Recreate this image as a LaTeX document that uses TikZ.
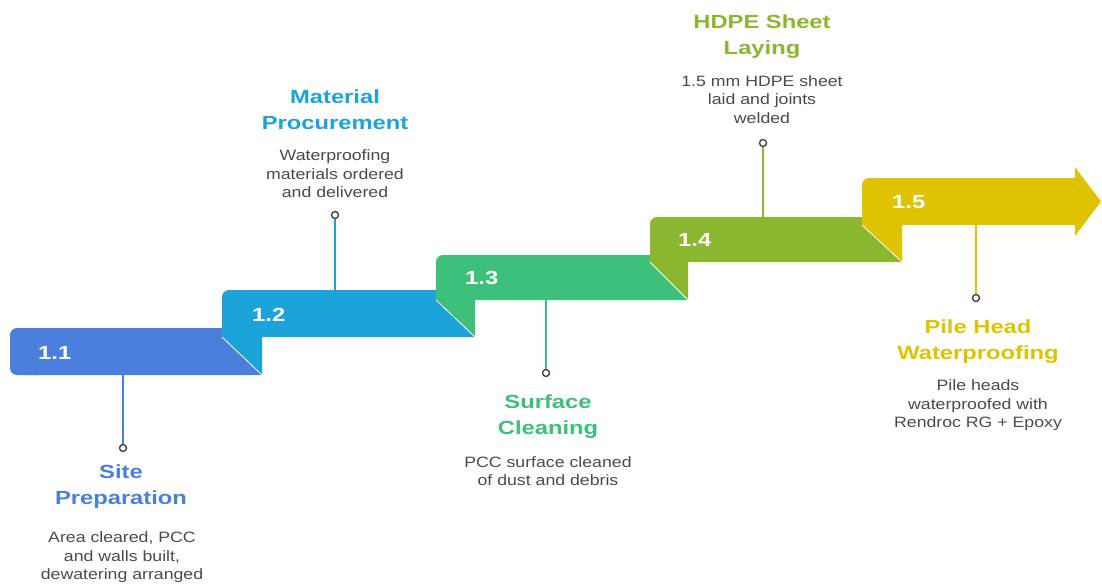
\documentclass[tikz,border=0pt]{standalone}
\usepackage{fontspec}
\setmainfont{Liberation Sans}
\newfontfamily\tfont[FakeStretch=1.25]{Liberation Sans}
\newfontfamily\dfont[FakeStretch=1.18]{Liberation Sans}
\definecolor{cA}{HTML}{4A7FDE}
\definecolor{cB}{HTML}{1BA3DA}
\definecolor{cC}{HTML}{3CC07A}
\definecolor{cD}{HTML}{8AB72F}
\definecolor{cE}{HTML}{E0C300}
\definecolor{txtgray}{HTML}{4A4A4A}
\definecolor{dotgray}{HTML}{444444}
\tikzset{
  numlabel/.style={anchor=west, text=white, font=\tfont\bfseries\fontsize{19}{22}\selectfont, inner sep=0pt},
  titlelabel/.style={align=center, font=\tfont\bfseries\fontsize{19}{26}\selectfont, inner sep=0pt},
  desclabel/.style={align=center, text=txtgray, font=\dfont\fontsize{15}{18.5}\selectfont, inner sep=0pt},
  enddot/.style={circle, draw=dotgray, fill=white, line width=1.4pt, minimum size=7pt, inner sep=0pt},
  conn/.style={line width=2pt},
  foldline/.style={white, line width=0.8pt},
}
\begin{document}
\begin{tikzpicture}[x=1pt,y=-1pt]
\useasboundingbox (0,0) rectangle (1102,584);
% band 1.1
\fill[cA, rounded corners=7] (10,328) rectangle (45,375);
\fill[cA] (30,328) -- (222,328) -- (222,337) -- (262,375) -- (30,375) -- cycle;
\fill[cB] (222,337) -- (262,337) -- (262,375) -- cycle;
\draw[foldline] (222,337) -- (262,375);
% band 1.2
\fill[cB, rounded corners=7] (222,290) rectangle (257,330);
\fill[cB] (242,290) -- (436,290) -- (436,300) -- (475,337) -- (222,337) -- (222,310) -- cycle;
\fill[cC] (436,300) -- (475,300) -- (475,337) -- cycle;
\draw[foldline] (436,300) -- (475,337);
% band 1.3
\fill[cC, rounded corners=7] (436,255) rectangle (471,292);
\fill[cC] (456,255) -- (650,255) -- (650,262) -- (688,300) -- (436,300) -- (436,275) -- cycle;
\fill[cD] (650,262) -- (688,262) -- (688,300) -- cycle;
\draw[foldline] (650,262) -- (688,300);
% band 1.4
\fill[cD, rounded corners=7] (650,217) rectangle (685,255);
\fill[cD] (670,217) -- (862,217) -- (862,225) -- (902,262) -- (650,262) -- (650,237) -- cycle;
\fill[cE] (862,225) -- (902,225) -- (902,262) -- cycle;
\draw[foldline] (862,225) -- (902,262);
% band 1.5 (arrow)
\fill[cE, rounded corners=7] (862,178) rectangle (897,218);
\fill[cE] (882,178) -- (1075,178) -- (1075,167) -- (1101,201.5) -- (1075,236) -- (1075,225) -- (862,225) -- (862,198) -- cycle;
% number labels
\node[numlabel] (n1) at (38,353) {1.1};
\node[numlabel] (n2) at (252,315) {1.2};
\node[numlabel] (n3) at (465,278) {1.3};
\node[numlabel] (n4) at (678,240) {1.4};
\node[numlabel] (n5) at (892,202) {1.5};
% connectors
\coordinate (b1) at (123,375);
\coordinate (b2) at (335,290);
\coordinate (b3) at (546,300);
\coordinate (b4) at (763,217);
\coordinate (b5) at (976,225);
\node[enddot] (d1) at (123,448) {};
\node[enddot] (d2) at (335,215) {};
\node[enddot] (d3) at (546,373) {};
\node[enddot] (d4) at (763,143) {};
\node[enddot] (d5) at (976,298) {};
\draw[conn, cA] (b1) -- (d1);
\draw[conn, cB] (b2) -- (d2);
\draw[conn, cC] (b3) -- (d3);
\draw[conn, cD] (b4) -- (d4);
\draw[conn, cE] (b5) -- (d5);
% titles
\node[titlelabel, text=cA] (t1) at (121,486.5) {Site\\Preparation};
\node[titlelabel, text=cB] (t2) at (335,110) {Material\\Procurement};
\node[titlelabel, text=cC] (t3) at (548,416.5) {Surface\\Cleaning};
\node[titlelabel, text=cD] (t4) at (762,36.5) {HDPE Sheet\\Laying};
\node[titlelabel, text=cE] (t5) at (978,341.5) {Pile Head\\Waterproofing};
% descriptions
\node[desclabel] (e1) at (122,557.5) {Area cleared, PCC\\and walls built,\\dewatering arranged};
\node[desclabel] (e2) at (335,174) {Waterproofing\\materials ordered\\and delivered};
\node[desclabel] (e3) at (548,471) {PCC surface cleaned\\of dust and debris};
\node[desclabel] (e4) at (762,99.5) {1.5 mm HDPE sheet\\laid and joints\\welded};
\node[desclabel] (e5) at (978,405.5) {Pile heads\\waterproofed with\\Rendroc RG + Epoxy};
\end{tikzpicture}
\end{document}
